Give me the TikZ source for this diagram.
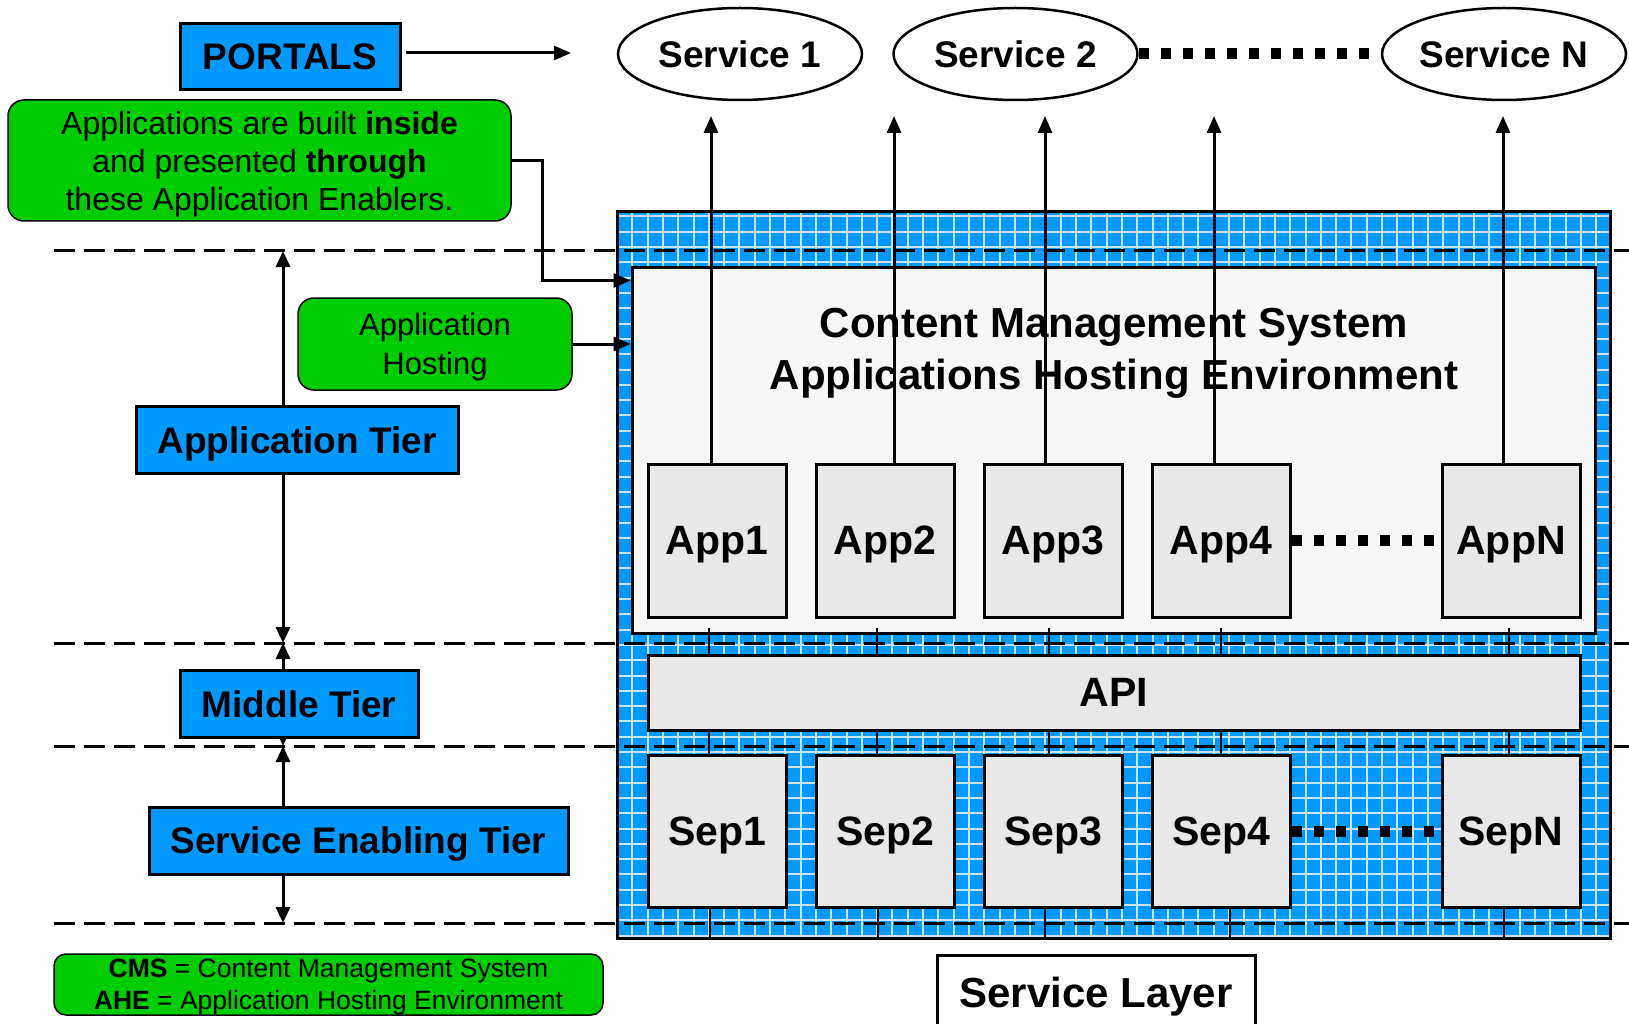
\documentclass[tikz,border=0pt]{standalone}
\usepackage{fontspec}
\setmainfont{Liberation Sans}
\usepackage{tikz}
\usetikzlibrary{calc}
\usetikzlibrary{arrows.meta}
\usetikzlibrary{positioning}
\usetikzlibrary{shapes.geometric}
\definecolor{tierblue}{RGB}{0,153,255}
\definecolor{notegreen}{RGB}{0,204,0}
\definecolor{cmsgrey}{RGB}{247,247,247}
\definecolor{boxgrey}{RGB}{232,232,232}
\definecolor{gridcol}{RGB}{200,226,246}
\tikzset{%
  myedge/.style={->, >={Triangle[length=17pt,width=14pt]}, line width=3pt},
  tieredge/.style={<->, >={Triangle[length=16pt,width=14pt]}, line width=3pt},
  tierline/.style={dash pattern=on 21pt off 9pt, line width=3pt},
  dotline/.style={dash pattern=on 10pt off 12pt, line width=11pt},
  tickline/.style={line width=2.5pt},
  tiernode/.style={rectangle, draw=black, fill=tierblue, line width=3pt, minimum height=67pt, inner sep=0pt,
    text depth=0pt, font=\fontsize{37}{44}\selectfont\bfseries},
  svcnode/.style={ellipse, draw=black, line width=2.5pt, minimum width=244pt, minimum height=92pt, inner sep=0pt,
    text depth=0pt, font=\fontsize{37}{44}\selectfont\bfseries},
  appnode/.style={rectangle, draw=black, fill=boxgrey, line width=3pt, minimum width=138pt, minimum height=153pt, inner sep=0pt,
    text depth=0pt, font=\fontsize{41}{48}\selectfont\bfseries},
  notenode/.style={rectangle, rounded corners=16pt, draw=black, fill=notegreen, line width=1.5pt, align=center, inner sep=0pt,
    text depth=0pt}
}

\begin{document}
\begin{tikzpicture}[x=1pt, y=-1pt]
  \useasboundingbox (0,0) rectangle (1629,1024);
  \clip (0,0) rectangle (1629,1024);

  % service layer with its grid
  \node[rectangle, fill=tierblue, minimum width=992pt, minimum height=726pt, inner sep=0pt] (layer) at (1114,575) {};
  \foreach \x in {632.3,647.6,...,1609} \draw[gridcol, line width=2pt] (\x,212) -- (\x,938);
  \foreach \y in {216.5,231.8,...,937} \draw[gridcol, line width=2pt] (618,\y) -- (1610,\y);
  \draw[line width=3pt] (layer.south west) rectangle (layer.north east);

  % tier borders
  \foreach \y/\n in {251/1,643/2,746/3,923/4} {
    \draw[tierline] (54,\y) -- (1629,\y);
    \coordinate (lvl\n) at (283,\y);
  }

  \node[rectangle, draw=black, fill=cmsgrey, line width=3pt, minimum width=963pt, minimum height=366pt] (cms) at (1113.5,450) {};
  \node[align=center, text depth=0pt, font=\fontsize{42}{52}\selectfont\bfseries] (cmstitle) at (1114,349)
    {Content Management System\\Applications Hosting Environment};

  \node[appnode] (app1) at (717,540.5) {App1};
  \node[appnode, right=27pt of app1] (app2) {App2};
  \node[appnode, right=27pt of app2] (app3) {App3};
  \node[appnode, right=27pt of app3] (app4) {App4};
  \node[appnode, right=149pt of app4] (appN) {AppN};

  \node[rectangle, draw=black, fill=boxgrey, line width=3pt, minimum width=932pt, minimum height=75pt,
    text depth=0pt, font=\fontsize{41}{48}\selectfont\bfseries] (api) at (1114,692.5) {API};

  \node[appnode, minimum height=152pt] (sep1) at (717,831) {Sep1};
  \node[appnode, minimum height=152pt, right=27pt of sep1] (sep2) {Sep2};
  \node[appnode, minimum height=152pt, right=27pt of sep2] (sep3) {Sep3};
  \node[appnode, minimum height=152pt, right=27pt of sep3] (sep4) {Sep4};
  \node[appnode, minimum height=152pt, right=149pt of sep4] (sepN) {SepN};

  \foreach \i/\dx/\dz in {1/-8/-7,2/-8/-7,3/-4/-8,4/0/9,N/-2/-7} {
    \draw[tickline] ($(app\i.south)+(\dx,9)$) -- ($(app\i.south |- api.north)+(\dx,2)$);
    \draw[tickline] ($(app\i.south |- api.south)+(\dx,-2)$) -- ($(sep\i.north)+(\dx,3)$);
    \draw[tickline] ($(sep\i.south)+(\dz,0)$) -- ($(sep\i.south |- layer.south)+(\dz,0)$);
  }

  \draw[dotline] (app4.east) -- (appN.west);
  \draw[dotline] (sep4.east) -- (sepN.west);

  % services
  \node[svcnode] (svc1) at (740,54) {Service 1};
  \node[svcnode, right=29pt of svc1] (svc2) {Service 2};
  \node[svcnode] (svcN) at (1504,54) {Service N};
  \draw[dotline] (svc2.east) -- (svcN.west);

  \coordinate (svctip) at (0,116);
  \foreach \i/\dx in {1/-6,2/9,3/-8,4/-7,N/-8}
    \draw[myedge] ($(app\i.north)+(\dx,0)$) -- ($(app\i.north |- svctip)+(\dx,0)$);

  % tiers
  \draw[tieredge] (lvl1) -- (lvl2);
  \draw[tieredge] (lvl2) -- (lvl3);
  \draw[tieredge] (lvl3) -- (lvl4);
  \node[tiernode, minimum width=220pt, minimum height=66pt] (portals) at (290,57) {PORTALS};
  \node[tiernode, minimum width=322pt] (apptier) at (297,440) {Application Tier};
  \node[tiernode, minimum width=238pt] (midtier) at (299,704) {Middle Tier};
  \node[tiernode, minimum width=419pt] (septier) at (358.5,840.5) {Service Enabling Tier};

  \coordinate (portalsend) at (571,53);
  \draw[myedge] ([xshift=4pt,yshift=4pt]portals.east) -- (portalsend);

  % notes
  \node[notenode, minimum width=503pt, minimum height=121pt, font=\fontsize{32}{38}\selectfont] (enablers) at (259.5,160.5)
    {Applications are built \textbf{inside}\\and presented \textbf{through}\\these Application Enablers.};
  \node[notenode, minimum width=274pt, minimum height=92pt, font=\fontsize{31}{38.5}\selectfont] (hosting) at (435,344)
    {Application\\Hosting};
  \node[notenode, rounded corners=12pt, minimum width=549pt, minimum height=61pt, font=\fontsize{26.5}{32}\selectfont] (legend) at (328.5,984.5)
    {\textbf{CMS} = Content Management System\\\textbf{AHE} = Application Hosting Environment};

  \coordinate (cmsin) at ($(cms.north west)+(0,15)$);
  \draw[myedge] (enablers.east) -- ++(31,0) |- (cmsin);
  \draw[myedge] (hosting.east) -- (hosting.east -| cms.west);

  \node[rectangle, draw=black, fill=white, line width=3pt, minimum width=318pt, minimum height=74pt, inner sep=0pt,
    text depth=0pt, font=\fontsize{42}{50}\selectfont\bfseries] (svclayer) at (1096,992) {Service Layer};
\end{tikzpicture}
\end{document}
